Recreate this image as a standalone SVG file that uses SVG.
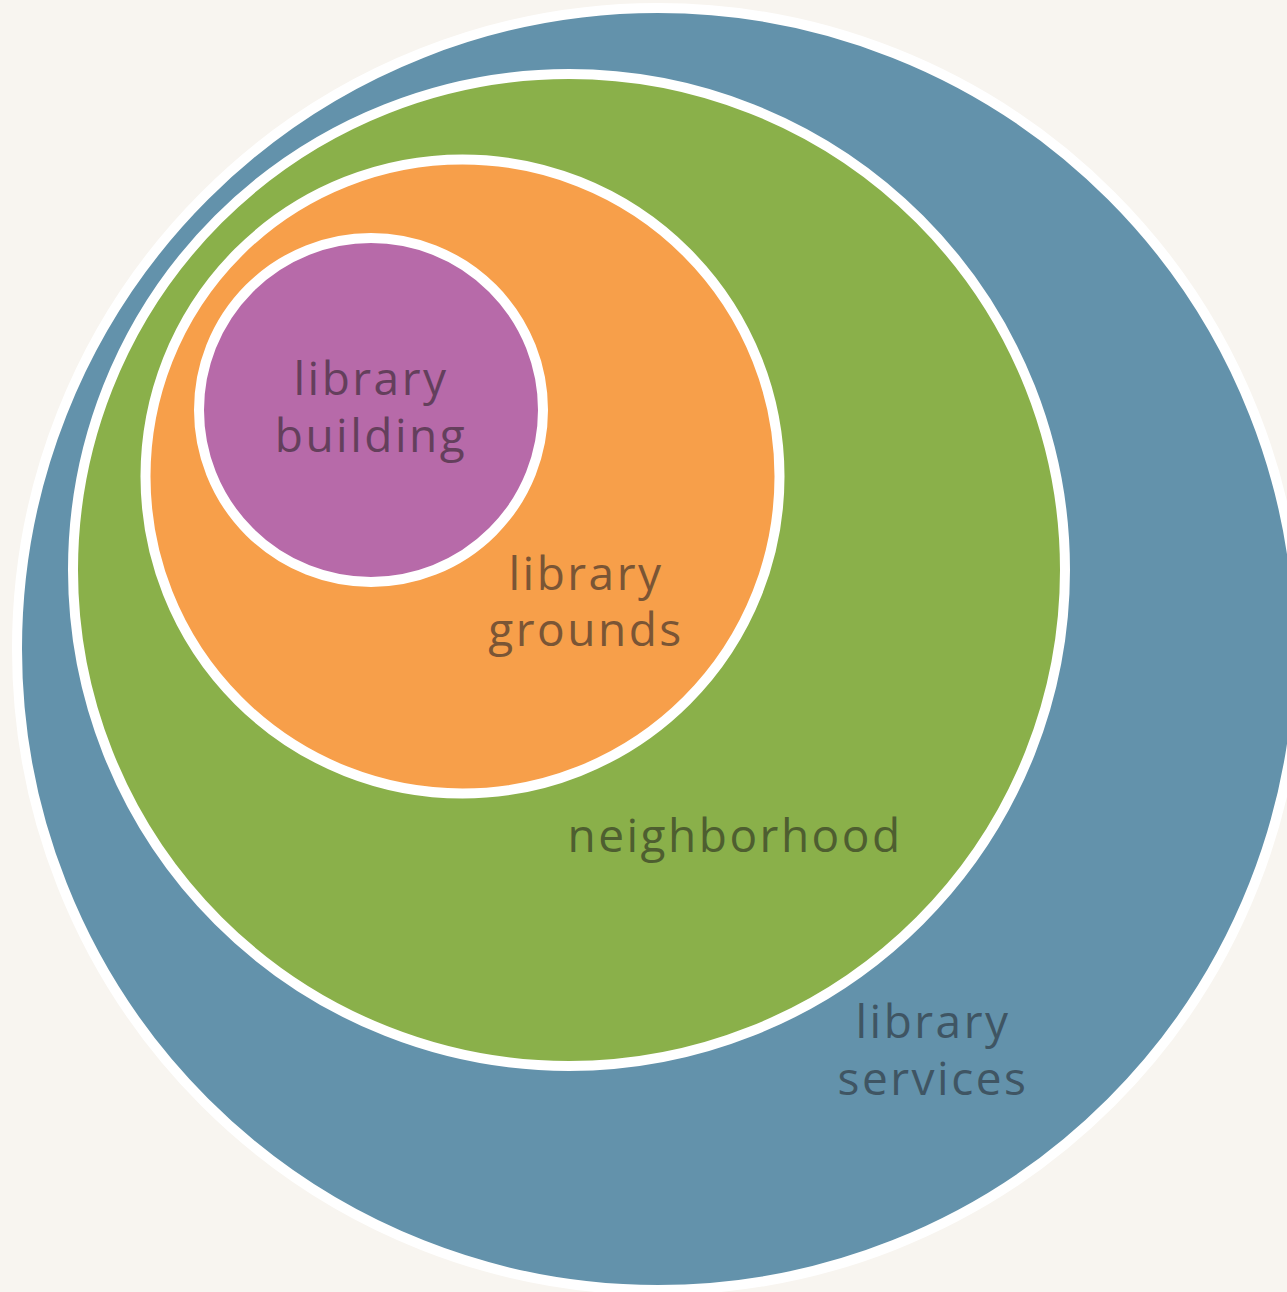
<svg xmlns="http://www.w3.org/2000/svg" width="1287" height="1292" viewBox="0 0 1287 1292">
<style>
.ring{stroke:#ffffff;stroke-width:10}
.lbl{font-family:"Open Sans","Liberation Sans",sans-serif;font-size:46px;font-weight:400;letter-spacing:2.5px;text-anchor:middle}
</style>
<rect x="0" y="0" width="1287" height="1292" fill="#f8f5f0"/>
<g id="library-services">
<circle class="ring" cx="658" cy="649" r="641" fill="#6392ab"/>
<text class="lbl" fill="#3f5563"><tspan x="933" y="1038">library</tspan><tspan x="933" y="1095">services</tspan></text>
</g>
<g id="neighborhood">
<circle class="ring" cx="569" cy="570" r="496" fill="#8ab04a"/>
<text class="lbl" fill="#4e5e30" x="735" y="852">neighborhood</text>
</g>
<g id="library-grounds">
<circle class="ring" cx="462.5" cy="476.5" r="317" fill="#f79f4a"/>
<text class="lbl" fill="#7a5535"><tspan x="586" y="590">library</tspan><tspan x="586" y="646">grounds</tspan></text>
</g>
<g id="library-building">
<circle class="ring" cx="371" cy="410" r="172" fill="#b76aa9"/>
<text class="lbl" fill="#643f5c"><tspan x="371" y="395">library</tspan><tspan x="371" y="452">building</tspan></text>
</g>
<g id="connectors"/>
</svg>
